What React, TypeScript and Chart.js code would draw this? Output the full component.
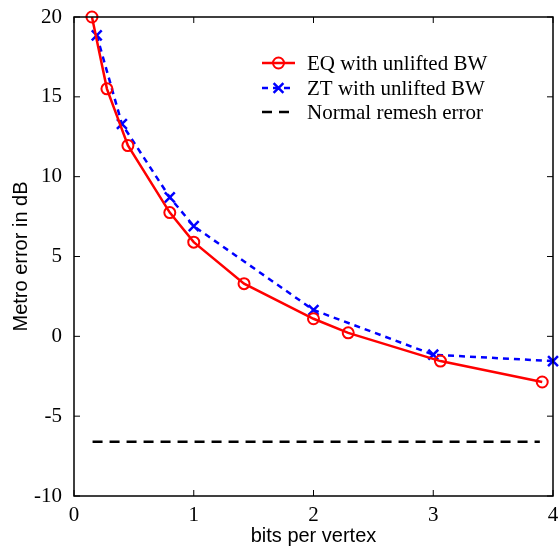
import React, { useEffect, useRef } from "react";
import { Chart, registerables } from "chart.js";
Chart.register(...registerables);

const eqX = [0.15, 0.275, 0.45, 0.8, 1.0, 1.42, 2.0, 2.29, 3.06, 3.91];
const eqY = [20, 15.5, 11.95, 7.75, 5.9, 3.3, 1.1, 0.22, -1.55, -2.86];
const ztX = [0.19, 0.4, 0.8, 1.0, 2.0, 3.0, 4.0];
const ztY = [18.85, 13.3, 8.7, 6.9, 1.65, -1.15, -1.55];
const normalX = [0.155, 3.89];
const normalY = [-6.6, -6.6];
const xTicks = [0, 1, 2, 3, 4];
const yTicks = [-10, -5, 0, 5, 10, 15, 20];
const seriesLabels = ["EQ with unlifted BW", "ZT with unlifted BW", "Normal remesh error"];
const xTitle = "bits per vertex";
const yTitle = "Metro error in dB";

const SERIF = "'Liberation Serif', 'Times New Roman', serif";
const SANS = "'Liberation Sans', Arial, sans-serif";

const zip = (xs: number[], ys: number[]) => xs.map((x, i) => ({ x, y: ys[i] }));

const framePlugin = {
  id: "frameTicks",
  afterDraw(chart: any) {
    const { ctx, chartArea: a, scales } = chart;
    const xs = scales.x, ys = scales.y;
    ctx.save();
    ctx.strokeStyle = "#000";
    ctx.lineWidth = 1.5;
    ctx.strokeRect(a.left, a.top, a.right - a.left, a.bottom - a.top);
    const L = 6;
    ctx.lineWidth = 1;
    ctx.beginPath();
    xTicks.forEach((t) => {
      const px = xs.getPixelForValue(t);
      ctx.moveTo(px, a.bottom); ctx.lineTo(px, a.bottom - L);
      ctx.moveTo(px, a.top); ctx.lineTo(px, a.top + L);
    });
    yTicks.forEach((t) => {
      const py = ys.getPixelForValue(t);
      ctx.moveTo(a.left, py); ctx.lineTo(a.left + L, py);
      ctx.moveTo(a.right, py); ctx.lineTo(a.right - L, py);
    });
    ctx.stroke();

    // legend
    const ds = chart.data.datasets;
    const x0 = a.right - 291, x1 = a.right - 258, tx = a.right - 246;
    const rows = [a.top + 46, a.top + 71, a.top + 95];
    ctx.font = `21px ${SERIF}`;
    ctx.textBaseline = "middle";
    ctx.textAlign = "left";
    ds.forEach((d: any, i: number) => {
      const y = rows[i];
      ctx.strokeStyle = d.borderColor;
      ctx.lineWidth = d.borderWidth;
      ctx.setLineDash(d.borderDash || []);
      ctx.beginPath();
      ctx.moveTo(x0, y); ctx.lineTo(x1, y);
      ctx.stroke();
      ctx.setLineDash([]);
      const cx = (x0 + x1) / 2;
      ctx.lineWidth = 2;
      if (d.pointStyle === "circle" && d.pointRadius > 0) {
        ctx.beginPath(); ctx.arc(cx, y, d.pointRadius, 0, Math.PI * 2); ctx.stroke();
      } else if (d.pointStyle === "crossRot" && d.pointRadius > 0) {
        const r = d.pointRadius * 0.7;
        ctx.lineWidth = 2.5;
        ctx.beginPath();
        ctx.moveTo(cx - r, y - r); ctx.lineTo(cx + r, y + r);
        ctx.moveTo(cx - r, y + r); ctx.lineTo(cx + r, y - r);
        ctx.stroke();
      }
      ctx.fillStyle = "#000";
      ctx.fillText(seriesLabels[i], tx, y + 1);
    });
    ctx.restore();
  },
};

export default function App() {
  const ref = useRef<HTMLCanvasElement>(null);
  useEffect(() => {
    const chart = new Chart(ref.current!, {
      type: "line",
      data: {
        datasets: [
          {
            label: seriesLabels[0],
            data: zip(eqX, eqY),
            borderColor: "#ff0000",
            backgroundColor: "rgba(0,0,0,0)",
            borderWidth: 2.5,
            pointStyle: "circle",
            pointRadius: 5.5,
            pointBorderWidth: 2,
            pointBorderColor: "#ff0000",
            pointBackgroundColor: "rgba(0,0,0,0)",
            clip: false,
          } as any,
          {
            label: seriesLabels[1],
            data: zip(ztX, ztY),
            borderColor: "#0000ff",
            backgroundColor: "rgba(0,0,0,0)",
            borderWidth: 2.5,
            borderDash: [6, 5],
            pointStyle: "crossRot",
            pointRadius: 7,
            pointBorderWidth: 2.5,
            pointBorderColor: "#0000ff",
            clip: false,
          } as any,
          {
            label: seriesLabels[2],
            data: zip(normalX, normalY),
            borderColor: "#000000",
            backgroundColor: "rgba(0,0,0,0)",
            borderWidth: 2.5,
            borderDash: [10, 7],
            pointRadius: 0,
            pointStyle: "line",
            clip: false,
          } as any,
        ],
      },
      options: {
        animation: false,
        responsive: false,
        maintainAspectRatio: false,
        layout: { padding: { top: 17, right: 6, left: 0, bottom: 0 }, autoPadding: false } as any,
        plugins: { legend: { display: false }, tooltip: { enabled: false } },
        elements: { line: { tension: 0 } },
        scales: {
          x: {
            type: "linear",
            min: 0,
            max: 4,
            afterBuildTicks: (s: any) => { s.ticks = xTicks.map((v) => ({ value: v })); },
            afterFit: (s: any) => { s.height = 53; s.paddingLeft = 0; s.paddingRight = 0; },
            ticks: { color: "#000", font: { family: SERIF, size: 21 }, padding: 7, maxRotation: 0 },
            grid: { display: false, drawTicks: false },
            border: { display: false },
            title: { display: true, text: xTitle, color: "#000", font: { family: SANS, size: 20 }, padding: { top: 0, bottom: 1 } },
          },
          y: {
            type: "linear",
            min: -10,
            max: 20,
            afterBuildTicks: (s: any) => { s.ticks = yTicks.map((v) => ({ value: v })); },
            afterFit: (s: any) => { s.width = 74; s.paddingTop = 0; s.paddingBottom = 0; },
            ticks: { color: "#000", font: { family: SERIF, size: 21 }, padding: 12 },
            grid: { display: false, drawTicks: false },
            border: { display: false },
            title: { display: true, text: yTitle, color: "#000", font: { family: SANS, size: 20 }, padding: { top: 9, bottom: 0 } },
          },
        },
      },
      plugins: [framePlugin],
    } as any);
    return () => chart.destroy();
  }, []);
  return (
    <div style={{ position: "fixed", left: 0, top: 0, width: 559, height: 549, background: "#fff" }}>
      <canvas ref={ref} width={559} height={549} style={{ width: 559, height: 549 }} />
    </div>
  );
}
